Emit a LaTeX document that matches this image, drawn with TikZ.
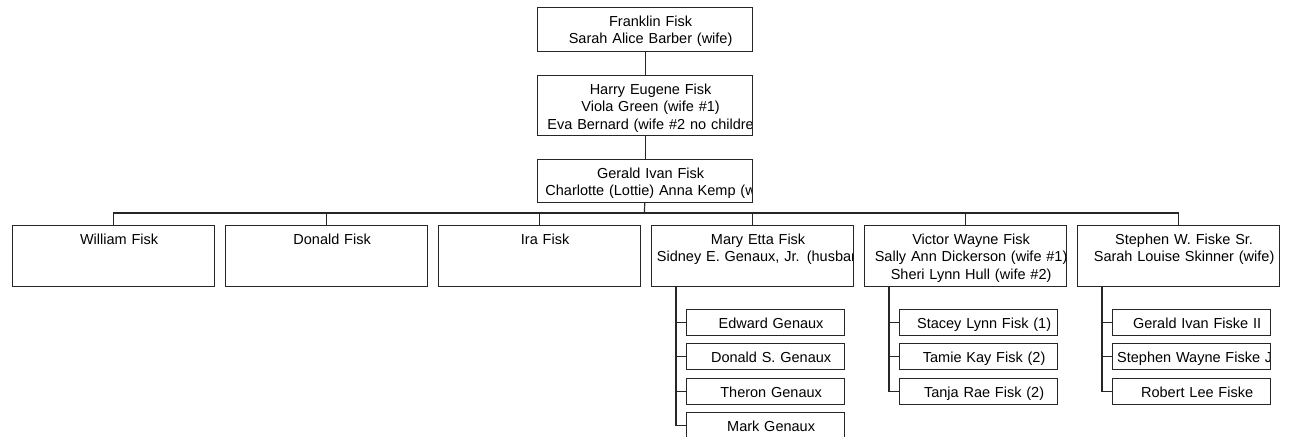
\documentclass[tikz,border=0pt]{standalone}
\usepackage{fontspec}
\setmainfont{Liberation Sans}
\tikzset{
	box/.style={draw=black!85, line width=1.2pt, anchor=north west, inner sep=0pt},
	fisktext/.style={anchor=north, draw=none, inner sep=0pt, minimum width=0pt, minimum height=0pt, align=center, font=\fontsize{14.5}{17.3}\selectfont},
	namebox/.style 2 args={box, path picture={\node[fisktext, text width=#1] at ([xshift=5.5pt,yshift=-6.1pt]path picture bounding box.north) {\strut #2};}},
	elder/.style={namebox={218pt}{#1}, minimum width=215pt},
	member/.style={namebox={205pt}{#1}, minimum width=202pt, minimum height=61pt},
	kid/.style={namebox={161pt}{#1}, minimum width=158pt, minimum height=26pt},
	link/.style={draw=black!85, line width=1.2pt}
}
\begin{document}
\begin{tikzpicture}[x=1pt, y=-1pt]
	\useasboundingbox (0,0) rectangle (1289,436);
	\node[elder={Franklin Fisk\\Sarah Alice Barber (wife)}, minimum height=44pt] (franklin) at (537,7) {};
	\node[elder={Harry Eugene Fisk\\Viola Green (wife \#1)\\\mbox{Eva Bernard (wife \#2 no childre}}, minimum height=60pt] (harry) at (537,75) {};
	\node[elder={Gerald Ivan Fisk\\\mbox{Charlotte (Lottie) Anna Kemp (w}}, minimum height=43pt] (gerald) at (537,159) {};
	\node[member={William Fisk}] (william) at (12,225) {};
	\node[member={Donald Fisk}] (donald) at (225,225) {};
	\node[member={Ira Fisk}] (ira) at (438,225) {};
	\node[member={Mary Etta Fisk\\\mbox{Sidney E. Genaux, Jr. (husban}}] (mary) at (651,225) {};
	\node[member={Victor Wayne Fisk\\\mbox{Sally Ann Dickerson (wife \#1)}\\Sheri Lynn Hull (wife \#2)}] (victor) at (864,225) {};
	\node[member={Stephen W. Fiske Sr.\\\mbox{Sarah Louise Skinner (wife)}}] (stephen) at (1077,225) {};
	\node[kid={Edward Genaux}] (edward) at (686,309) {};
	\node[kid={Donald S. Genaux}] (donaldg) at (686,343) {};
	\node[kid={Theron Genaux}] (theron) at (686,378) {};
	\node[kid={Mark Genaux}] (mark) at (686,412) {};
	\node[kid={Stacey Lynn Fisk (1)}] (stacey) at (899,309) {};
	\node[kid={Tamie Kay Fisk (2)}] (tamie) at (899,343) {};
	\node[kid={Tanja Rae Fisk (2)}] (tanja) at (899,378) {};
	\node[kid={Gerald Ivan Fiske II}] (geraldii) at (1112,309) {};
	\node[kid={\mbox{Stephen Wayne Fiske Jr}}] (stephenjr) at (1112,343) {};
	\node[kid={Robert Lee Fiske}] (robert) at (1112,378) {};
	\coordinate (bus) at (644.5,213);
	\coordinate (mstem) at ([xshift=25pt]mary.south west);
	\coordinate (vstem) at ([xshift=25pt]victor.south west);
	\coordinate (sstem) at ([xshift=25pt]stephen.south west);
	\draw[link] (franklin) -- (harry);
	\draw[link] (harry) -- (gerald);
	\draw[link] (gerald) -- (bus);
	\foreach \c in {william,donald,ira,mary,victor,stephen}
		\draw[link] (bus) -| (\c);
	\foreach \k in {edward,donaldg,theron,mark}
		\draw[link] (mstem) |- (\k);
	\foreach \k in {stacey,tamie,tanja}
		\draw[link] (vstem) |- (\k);
	\foreach \k in {geraldii,stephenjr,robert}
		\draw[link] (sstem) |- (\k);
\end{tikzpicture}
\end{document}
